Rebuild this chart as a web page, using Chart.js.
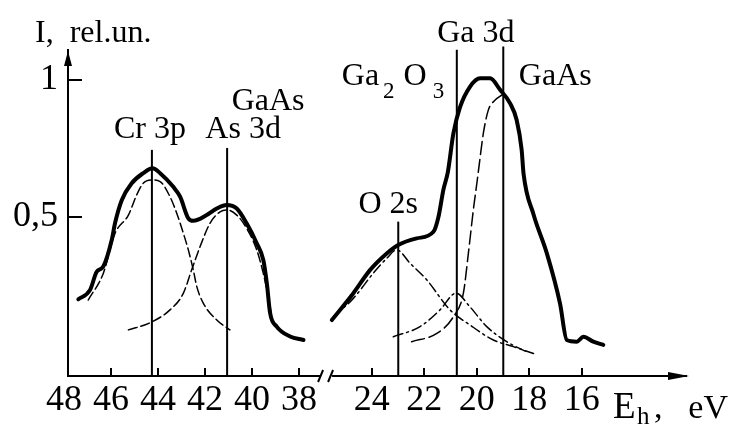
<!DOCTYPE html>
<html>
<head>
    <title>XPS spectrum Cr 3p / As 3d / Ga 3d</title>
    <meta charset="UTF-8">
    <style>
        body { margin: 0; background: #fff; }
        canvas { display: block; }
    </style>
</head>
<body>

<canvas id="spectrum" width="730" height="425"></canvas>

<script src="https://cdn.jsdelivr.net/npm/chart.js"></script>
<script>

    // measured spectrum, left window (Cr 3p + As 3d)
    var left_energy = [47.39, 46.89, 46.61, 46.33, 45.97, 45.83, 45.54, 45.12, 44.63, 44.23, 43.91, 43.35, 43.06, 42.71,
                       42.50, 41.93, 41.50, 41.08, 40.65, 40.23, 39.80, 39.52, 39.37, 39.23, 38.95, 38.38, 37.81];
    var left_intensity = [0.200, 0.234, 0.300, 0.319, 0.416, 0.477, 0.562, 0.623, 0.660, 0.678, 0.660, 0.610, 0.574, 0.495,
                          0.486, 0.507, 0.531, 0.544, 0.531, 0.477, 0.404, 0.343, 0.258, 0.149, 0.100, 0.064, 0.051];

    // fitted components, left window
    var cr3p_energy = [46.97, 46.33, 45.83, 45.26, 44.91, 44.63, 44.27, 43.91, 43.49, 43.20, 42.92, 42.71, 42.50, 42.35, 42.07, 41.50, 40.94];
    var cr3p_intensity = [0.197, 0.294, 0.440, 0.507, 0.580, 0.623, 0.635, 0.629, 0.574, 0.513, 0.440, 0.380, 0.307, 0.246, 0.185, 0.124, 0.088];

    var as3d_energy = [45.26, 44.34, 43.49, 42.92, 42.57, 42.21, 41.79, 41.36, 41.08, 40.65, 40.23, 39.80, 39.52, 39.31, 39.16];
    var as3d_intensity = [0.088, 0.114, 0.161, 0.222, 0.307, 0.392, 0.477, 0.519, 0.526, 0.507, 0.459, 0.380, 0.294, 0.209, 0.136];

    // measured spectrum, right window (O 2s + Ga 3d)
    var right_energy = [25.52, 24.70, 24.06, 23.43, 22.99, 22.29, 21.65, 21.46, 21.27, 21.10, 20.89, 20.64, 20.26, 19.87,
                        19.49, 19.11, 18.73, 18.48, 18.29, 18.22, 17.84, 17.33, 16.83, 16.57, 16.19, 15.94, 15.56, 15.18];
    var right_intensity = [0.124, 0.222, 0.307, 0.367, 0.398, 0.422, 0.446, 0.500, 0.600, 0.665, 0.805, 0.900, 0.975, 1.006,
                           1.006, 0.964, 0.915, 0.854, 0.745, 0.660, 0.510, 0.367, 0.185, 0.051, 0.045, 0.063, 0.045, 0.033];

    // fitted components, right window
    var o2s_energy = [25.46, 24.70, 23.94, 23.43, 23.05, 22.54, 21.90, 21.02, 20.26, 19.37, 18.61, 17.84];
    var o2s_intensity = [0.136, 0.203, 0.295, 0.349, 0.380, 0.331, 0.270, 0.161, 0.106, 0.051, 0.027, 0.002];

    var ga2o3_energy = [23.18, 22.16, 21.40, 20.79, 20.26, 19.62, 18.86, 18.10];
    var ga2o3_intensity = [0.063, 0.100, 0.161, 0.222, 0.172, 0.100, 0.045, 0.008];

    var gaas_energy = [22.48, 21.52, 20.89, 20.51, 20.32, 20.13, 19.98, 19.90, 19.75, 19.56, 19.30, 19.05];
    var gaas_intensity = [0.045, 0.075, 0.136, 0.222, 0.367, 0.526, 0.635, 0.696, 0.805, 0.890, 0.927, 0.945];

    // peak position markers
    var marker_energy = [44.26, 41.06, 22.99, 20.76, 18.99];
    var marker_top = [0.745, 0.752, 0.483, 1.11, 1.122];

    // axis ticks
    var tick_energy = [48, 46, 44, 42, 40, 38, 24, 22, 20, 18, 16];
    var tick_labels = ["48", "46", "44", "42", "40", "38", "24", "22", "20", "18", "16"];
    var y_ticks = [0.5, 1];
    var y_tick_labels = ["0,5", "1"];

    var axis_energy_from = 47.83;
    var axis_energy_to = 12.03;
    var y_min = -0.0803;
    var y_max = 1.1095;


    // the energy axis is broken: 48..38 eV on the left, 25..15 eV on the right.
    // positions are counted in eV of the left window, the right window is drawn a bit wider per eV
    var left_zero = 44;
    var right_zero = 24;
    var right_shift = 9.094;
    var right_stretch = 26.25 / 23.5;

    function energy_to_pos(e){
        if(e > 30){
            return left_zero - e;
        }
        return right_shift + (right_zero - e) * right_stretch;
    }

    function make_points(energy, values){
        var out = [];
        for(var i = 0; i < energy.length; i++){
            out.push({x: energy_to_pos(energy[i]), y: values[i]});
        }
        return out;
    }

    function curve(energy, values, width, dash){
        return {
            data: make_points(energy, values),
            showLine: true,
            borderColor: '#000',
            borderWidth: width,
            borderDash: dash,
            borderCapStyle: 'round',
            borderJoinStyle: 'round',
            pointRadius: 0,
            fill: false,
            clip: false,
            cubicInterpolationMode: 'monotone'
        };
    }

    function marker_lines(){
        var sets = [];
        for(var i = 0; i < marker_energy.length; i++){
            var p = energy_to_pos(marker_energy[i]);
            sets.push({
                data: [{x: p, y: y_min}, {x: p, y: marker_top[i]}],
                showLine: true,
                borderColor: '#000',
                borderWidth: 2,
                pointRadius: 0,
                clip: false
            });
        }
        return sets;
    }

    var serif = '"Liberation Serif", "Times New Roman", serif';

    // arrows, axis break, inward ticks and the peak names
    var decor = {
        id: 'decor',
        afterDraw: function(chart){
            var ctx = chart.ctx;
            var area = chart.chartArea;
            var x = chart.scales.x;
            var y = chart.scales.y;
            ctx.save();
            ctx.strokeStyle = '#000';
            ctx.fillStyle = '#000';
            ctx.lineWidth = 2;

            ctx.beginPath();
            for(var i = 1; i < tick_energy.length; i++){
                var px = Math.round(x.getPixelForValue(energy_to_pos(tick_energy[i])));
                ctx.moveTo(px, area.bottom);
                ctx.lineTo(px, area.bottom - 8);
            }
            for(var j = 0; j < y_ticks.length; j++){
                var py = Math.round(y.getPixelForValue(y_ticks[j]));
                ctx.moveTo(area.left, py);
                ctx.lineTo(area.left + 14, py);
            }
            ctx.stroke();

            // break on the energy axis
            var bx = x.getPixelForValue(energy_to_pos(38) + 1.15);
            ctx.fillStyle = '#fff';
            ctx.fillRect(bx - 6, area.bottom - 3, 12, 6);
            ctx.fillStyle = '#000';
            ctx.beginPath();
            ctx.moveTo(bx - 8, area.bottom + 6);
            ctx.lineTo(bx - 3, area.bottom - 6);
            ctx.moveTo(bx + 2, area.bottom + 6);
            ctx.lineTo(bx + 7, area.bottom - 6);
            ctx.stroke();

            // axis arrows
            ctx.beginPath();
            ctx.moveTo(area.left, area.top + 1);
            ctx.lineTo(area.left - 4, area.top + 16);
            ctx.lineTo(area.left + 4, area.top + 16);
            ctx.closePath();
            ctx.fill();

            ctx.beginPath();
            ctx.moveTo(area.right + 3, area.bottom);
            ctx.lineTo(area.right - 18, area.bottom - 4);
            ctx.lineTo(area.right - 18, area.bottom + 4);
            ctx.closePath();
            ctx.fill();

            // axis titles
            ctx.textBaseline = 'alphabetic';
            ctx.textAlign = 'left';
            ctx.font = '32px ' + serif;
            ctx.fillText('I,  rel.un.', 35, 42);

            ctx.font = '37px ' + serif;
            ctx.fillText('E', 613, 418);
            ctx.font = '25px ' + serif;
            ctx.fillText('h', 637, 424);
            ctx.font = '34px ' + serif;
            ctx.fillText(',', 654, 418);
            ctx.textAlign = 'right';
            ctx.fillText('eV', 728, 418);

            // peak names
            ctx.font = '32px ' + serif;
            ctx.textAlign = 'center';
            var m = marker_energy.map(function(e){ return x.getPixelForValue(energy_to_pos(e)); });
            ctx.fillText('Cr 3p', m[0] - 2, 138);
            ctx.fillText('As 3d', m[1] + 16, 138);
            ctx.fillText('GaAs', m[1] + 41, 110);
            ctx.fillText('O 2s', m[2] - 10, 213);
            ctx.fillText('Ga 3d', m[3] + 19, 42);
            ctx.fillText('GaAs', m[4] + 52, 85);

            // Ga2O3 with subscripts, ends just left of the Ga 3d marker
            ctx.textAlign = 'left';
            var gx = m[3] - 115;
            ctx.font = '32px ' + serif;
            ctx.fillText('Ga', gx, 85);
            gx += ctx.measureText('Ga').width + 4;
            ctx.font = '23px ' + serif;
            ctx.fillText('2', gx, 98);
            gx += ctx.measureText('2').width + 9;
            ctx.font = '32px ' + serif;
            ctx.fillText('O', gx, 85);
            gx += ctx.measureText('O').width + 6;
            ctx.font = '23px ' + serif;
            ctx.fillText('3', gx, 98);

            ctx.restore();
        }
    };

    function create_chart(){
        var datasets = marker_lines();
        datasets.push(curve(cr3p_energy, cr3p_intensity, 1.5, [9, 4]));
        datasets.push(curve(as3d_energy, as3d_intensity, 1.5, [9, 4]));
        datasets.push(curve(o2s_energy, o2s_intensity, 1.5, [10, 4, 2, 4]));
        datasets.push(curve(ga2o3_energy, ga2o3_intensity, 1.5, [10, 4, 2, 4]));
        datasets.push(curve(gaas_energy, gaas_intensity, 1.5, [13, 5]));
        datasets.push(curve(left_energy, left_intensity, 4, []));
        datasets.push(curve(right_energy, right_intensity, 4, []));

        var config = {
            type: 'scatter',
            data: { datasets: datasets },
            options: {
                responsive: false,
                animation: false,
                events: [],
                layout: { padding: { top: 50, right: 44, left: 0, bottom: 0 } },
                plugins: {
                    legend: { display: false },
                    tooltip: { enabled: false }
                },
                scales: {
                    x: {
                        type: 'linear',
                        min: energy_to_pos(axis_energy_from),
                        max: energy_to_pos(axis_energy_to),
                        afterFit: function(scale){ scale.height = 49; },
                        afterBuildTicks: function(scale){
                            scale.ticks = tick_energy.map(function(e){ return {value: energy_to_pos(e)}; });
                        },
                        ticks: {
                            autoSkip: false,
                            maxRotation: 0,
                            padding: 3,
                            color: '#000',
                            font: { family: serif, size: 36 },
                            callback: function(value, index){ return tick_labels[index]; }
                        },
                        grid: { display: false, drawTicks: false },
                        border: { display: true, color: '#000', width: 2 }
                    },
                    y: {
                        type: 'linear',
                        min: y_min,
                        max: y_max,
                        afterFit: function(scale){ scale.width = 68; },
                        afterBuildTicks: function(scale){
                            scale.ticks = y_ticks.map(function(v){ return {value: v}; });
                        },
                        ticks: {
                            padding: 10,
                            color: '#000',
                            font: { family: serif, size: 36 },
                            callback: function(value, index){ return y_tick_labels[index]; }
                        },
                        grid: { display: false, drawTicks: false },
                        border: { display: true, color: '#000', width: 2 }
                    }
                }
            },
            plugins: [decor]
        };

        window.spectrum_chart = new Chart(document.getElementById('spectrum'), config);
    }

    create_chart();

</script>
</body>
</html>
